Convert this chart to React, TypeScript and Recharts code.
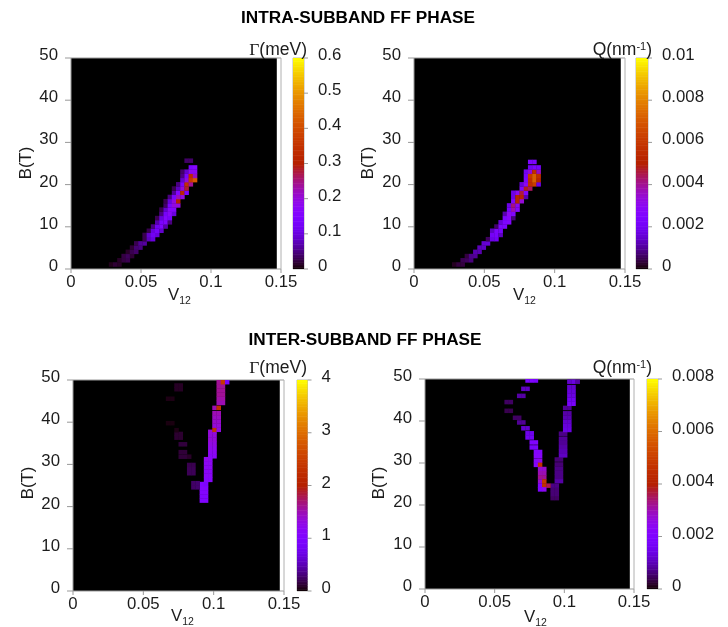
import React from "react";
import { ScatterChart, Scatter, XAxis, YAxis, ReferenceArea } from "recharts";

// Each row: [B (T) at the row's lower edge, V12 at the first cell's left edge, cell values]
type Row = [number, number, number[]];

const intraGammaRows: Row[] = [
  [0.6, 0.027, [0.01, 0.02, 0.015]],
  [1.6, 0.033, [0.015, 0.025, 0.03]],
  [2.6, 0.036, [0.025, 0.035, 0.02]],
  [3.6, 0.039, [0.015, 0.03, 0.04]],
  [4.6, 0.042, [0.02, 0.045, 0.05]],
  [5.6, 0.045, [0.03, 0.06, 0.065]],
  [6.6, 0.051, [0.03, 0.08, 0.1]],
  [7.6, 0.051, [0.03, 0.09, 0.12, 0.1]],
  [8.6, 0.054, [0.03, 0.1, 0.13, 0.09]],
  [9.6, 0.057, [0.05, 0.12, 0.15, 0.07]],
  [10.6, 0.06, [0.07, 0.14, 0.15, 0.05]],
  [11.6, 0.06, [0.03, 0.1, 0.16, 0.13]],
  [12.6, 0.063, [0.05, 0.13, 0.17, 0.1]],
  [13.6, 0.063, [0.03, 0.09, 0.17, 0.16]],
  [14.6, 0.066, [0.04, 0.14, 0.2, 0.2]],
  [15.6, 0.066, [0.03, 0.1, 0.2, 0.3]],
  [16.6, 0.069, [0.05, 0.14, 0.22, 0.2]],
  [17.6, 0.072, [0.06, 0.16, 0.32, 0.14]],
  [18.6, 0.072, [0.03, 0.08, 0.2, 0.28]],
  [19.6, 0.075, [0.05, 0.14, 0.34, 0.24]],
  [20.6, 0.078, [0.09, 0.2, 0.36, 0.42]],
  [21.6, 0.078, [0.05, 0.14, 0.33, 0.22]],
  [22.6, 0.078, [0.04, 0.09, 0.18, 0.18]],
  [23.6, 0.084, [0.14, 0.16]],
  [25.2, 0.081, [0.04, 0.04]],
];

const intraQRows: Row[] = [
  [0.6, 0.027, [0.0002, 0.0004, 0.0004]],
  [1.6, 0.033, [0.0005, 0.0006, 0.0008]],
  [2.6, 0.036, [0.0004, 0.0009, 0.001]],
  [3.6, 0.042, [0.0012, 0.0012]],
  [4.6, 0.045, [0.0013, 0.0014]],
  [5.6, 0.048, [0.0015, 0.0016]],
  [6.6, 0.051, [0.0006, 0.0018, 0.002]],
  [7.6, 0.054, [0.0021, 0.0023, 0.0014]],
  [8.6, 0.054, [0.0014, 0.0024, 0.0022]],
  [9.6, 0.057, [0.0007, 0.0024, 0.0024]],
  [10.6, 0.06, [0.0016, 0.0024, 0.0026]],
  [11.6, 0.063, [0.0024, 0.0028, 0.0008]],
  [12.6, 0.063, [0.0012, 0.003, 0.0026]],
  [13.6, 0.066, [0.0022, 0.0038, 0.0028]],
  [14.6, 0.066, [0.0018, 0.0042, 0.003]],
  [15.6, 0.069, [0.0026, 0.0052, 0.0034]],
  [16.6, 0.069, [0.0018, 0.0052, 0.0052, 0.0012]],
  [17.6, 0.069, [0.0018, 0.003, 0.0046, 0.0026]],
  [18.6, 0.075, [0.0026, 0.0048, 0.0044]],
  [19.6, 0.075, [0.0016, 0.003, 0.0056, 0.0062, 0.0018]],
  [20.6, 0.078, [0.0024, 0.0056, 0.0072, 0.0052]],
  [21.6, 0.078, [0.0022, 0.006, 0.0072, 0.0056]],
  [22.6, 0.078, [0.002, 0.0034, 0.0056, 0.0036]],
  [23.6, 0.081, [0.002, 0.0024, 0.0022]],
  [24.9, 0.081, [0.0024, 0.0024]],
];

const interGammaRows: Row[] = [
  [20.96, 0.09, [1.0, 1.0]],
  [21.94, 0.09, [1.0, 1.0]],
  [22.92, 0.09, [1.05, 1.05]],
  [23.9, 0.09, [1.05, 1.05]],
  [24.88, 0.09, [1.0, 0.95]],
  [25.08, 0.084, [0.26, 0.28]],
  [24.1, 0.084, [0.26, 0.28]],
  [25.87, 0.093, [1.1, 1.1]],
  [26.85, 0.093, [1.15, 1.15]],
  [27.83, 0.093, [1.15, 1.15]],
  [28.81, 0.093, [1.2, 1.2]],
  [29.79, 0.093, [1.2, 1.2]],
  [30.77, 0.093, [1.25, 1.2]],
  [31.46, 0.096, [1.15, 1.15]],
  [32.44, 0.096, [1.2, 1.2]],
  [33.42, 0.096, [1.25, 1.25]],
  [34.4, 0.096, [1.3, 1.3]],
  [35.38, 0.096, [1.35, 1.35]],
  [36.36, 0.096, [1.35, 1.35]],
  [37.25, 0.096, [1.35, 1.35]],
  [37.74, 0.099, [2.3, 1.3]],
  [38.72, 0.099, [1.35, 1.35]],
  [39.7, 0.099, [1.4, 1.4]],
  [40.68, 0.099, [1.45, 1.45]],
  [41.66, 0.099, [1.5, 1.5]],
  [42.93, 0.099, [1.5, 2.3]],
  [44.1, 0.102, [1.5, 1.5]],
  [45.09, 0.102, [1.55, 1.55]],
  [46.07, 0.102, [1.6, 1.6]],
  [47.05, 0.102, [1.6, 1.6]],
  [48.04, 0.102, [1.6, 1.6]],
  [49.02, 0.102, [1.6, 2.4, 0.9]],
  [31.36, 0.075, [0.14, 0.14, 0.1]],
  [32.44, 0.075, [0.14, 0.14]],
  [27.44, 0.081, [0.22, 0.22]],
  [28.42, 0.081, [0.22, 0.22]],
  [29.4, 0.081, [0.2, 0.2]],
  [34.3, 0.075, [0.15, 0.15]],
  [35.87, 0.072, [0.12, 0.12]],
  [36.75, 0.072, [0.12, 0.12]],
  [37.64, 0.072, [0.05]],
  [39.3, 0.066, [0.04, 0.04]],
  [45.09, 0.066, [0.05, 0.05]],
  [47.35, 0.072, [0.09, 0.09]],
  [48.23, 0.072, [0.09, 0.09]],
];

const interQRows: Row[] = [
  [21.17, 0.09, [0.0005, 0.0005]],
  [22.16, 0.09, [0.0006, 0.0006]],
  [23.15, 0.09, [0.0006, 0.0006]],
  [24.14, 0.09, [0.0007, 0.0007]],
  [25.23, 0.093, [0.0009, 0.0009]],
  [26.22, 0.093, [0.0007, 0.0007]],
  [27.21, 0.093, [0.0007, 0.0007]],
  [28.2, 0.093, [0.0007, 0.0007]],
  [29.19, 0.093, [0.0006, 0.0006]],
  [30.37, 0.093, [0.0006, 0.0006]],
  [31.36, 0.096, [0.0011, 0.0011]],
  [32.35, 0.096, [0.001, 0.001]],
  [33.34, 0.096, [0.0009, 0.0009]],
  [34.33, 0.096, [0.0008, 0.0008]],
  [35.32, 0.096, [0.0008, 0.0008]],
  [36.51, 0.096, [0.0007, 0.0007]],
  [37.4, 0.099, [0.0014, 0.0014]],
  [38.39, 0.099, [0.0013, 0.0013]],
  [39.38, 0.099, [0.0012, 0.0012]],
  [40.37, 0.099, [0.001, 0.001]],
  [41.36, 0.099, [0.0009, 0.0009]],
  [42.65, 0.099, [0.0008, 0.0008]],
  [43.64, 0.102, [0.0018, 0.0018]],
  [44.63, 0.102, [0.0016, 0.0016]],
  [45.62, 0.102, [0.0014, 0.0014]],
  [46.61, 0.102, [0.0013, 0.0013]],
  [47.6, 0.102, [0.0012, 0.0012]],
  [48.89, 0.102, [0.0012, 0.0014, 0.0009]],
  [49.18, 0.072, [0.0018, 0.002, 0.0018]],
  [47.2, 0.069, [0.0011, 0.0011]],
  [45.52, 0.066, [0.0009, 0.0009]],
  [44.04, 0.057, [0.0005, 0.0005]],
  [41.96, 0.057, [0.0004, 0.0004]],
  [40.3, 0.063, [0.0005, 0.0005]],
  [39.19, 0.066, [0.0008, 0.0008]],
  [37.8, 0.069, [0.0012, 0.0012]],
  [36.61, 0.072, [0.0015, 0.0015]],
  [35.62, 0.072, [0.0016, 0.0016]],
  [34.43, 0.075, [0.002, 0.002]],
  [33.24, 0.075, [0.0018, 0.0018]],
  [32.16, 0.078, [0.0021, 0.0021]],
  [31.17, 0.078, [0.0022, 0.0022]],
  [30.08, 0.078, [0.0022, 0.0025]],
  [29.09, 0.078, [0.0022, 0.0046]],
  [28.1, 0.081, [0.0028, 0.0028]],
  [27.11, 0.081, [0.003, 0.003]],
  [26.12, 0.081, [0.0032, 0.0032]],
  [25.13, 0.081, [0.0028, 0.0048]],
  [24.14, 0.081, [0.002, 0.0046, 0.0036]],
  [23.25, 0.081, [0.002, 0.0024]],
];

const vTicks = [0, 0.05, 0.1, 0.15];
const bTicks = [0, 10, 20, 30, 40, 50];
const gammaSmallTicks = [0, 0.1, 0.2, 0.3, 0.4, 0.5, 0.6];
const qSmallTicks = [0, 0.002, 0.004, 0.006, 0.008, 0.01];
const gammaLargeTicks = [0, 1, 2, 3, 4];
const qLargeTicks = [0, 0.002, 0.004, 0.006, 0.008];

const CELL_V = 0.003;
const CELL_B = 1;
const V_END = 0.147;
const GREY = "#999";
const INK = "#1c1c1c";
const FONT = "'Liberation Sans', Arial, sans-serif";
const FS = 16.8;
const BAR_LEVELS = 128;

function paletteColor(t: number) {
  const x = Math.max(0, Math.min(1, t));
  const r = Math.sqrt(x);
  const g = x * x * x;
  const b = Math.max(0, Math.sin(2 * Math.PI * x));
  return `rgb(${Math.round(r * 255)},${Math.round(g * 255)},${Math.round(b * 255)})`;
}

function expand(rows: Row[]) {
  const out: { v: number; b: number; value: number }[] = [];
  rows.forEach(([b, v0, values]) =>
    values.forEach((value, k) =>
      out.push({ v: v0 + (k + 0.5) * CELL_V, b: b + CELL_B / 2, value })
    )
  );
  return out;
}

const LEFT_W = 40;
const RIGHT_W = 30;
const TOP_H = 20;
const BOTTOM_H = 40;

function leftTick(props: any) {
  return (
    <text x={props.x - 5} y={props.y + 2} textAnchor="end" fontSize={FS} fontFamily={FONT} fill={INK}>
      {props.payload.value}
    </text>
  );
}
function bottomTick(props: any) {
  return (
    <text x={props.x} y={props.y + 12} textAnchor="middle" fontSize={FS} fontFamily={FONT} fill={INK}>
      {props.payload.value}
    </text>
  );
}
function rightTick(props: any) {
  return (
    <text x={props.x + 8} y={props.y + 2} textAnchor="start" fontSize={FS} fontFamily={FONT} fill={INK}>
      {props.payload.value}
    </text>
  );
}

function Panel({
  left, top, plotW, plotH, rows, max,
}: {
  left: number; top: number; plotW: number; plotH: number; rows: Row[]; max: number;
}) {
  const cw = (plotW / vTicks[3]) * CELL_V;
  const ch = (plotH / bTicks[5]) * CELL_B;
  const data = expand(rows);
  const line = { stroke: GREY };
  const light = { stroke: "#b0b0b0" };
  return (
    <div style={{ position: "absolute", left: left - LEFT_W, top: top - TOP_H }}>
      <ScatterChart
        width={LEFT_W + plotW + RIGHT_W}
        height={TOP_H + plotH + BOTTOM_H}
        margin={{ top: 0, right: 0, bottom: 0, left: 0 }}
      >
        <XAxis xAxisId="b" type="number" dataKey="v" domain={[0, 0.15]} ticks={vTicks} orientation="bottom"
          height={BOTTOM_H} tickSize={4} axisLine={line} tickLine={line} tick={bottomTick} allowDataOverflow interval={0} />
        <XAxis xAxisId="t" type="number" domain={[0, 0.15]} ticks={vTicks} orientation="top"
          height={TOP_H} tickSize={5} axisLine={line} tickLine={line} tick={false} allowDataOverflow interval={0} />
        <YAxis yAxisId="l" type="number" dataKey="b" domain={[0, 50]} ticks={bTicks} orientation="left"
          width={LEFT_W} tickSize={6} axisLine={line} tickLine={line} tick={leftTick} allowDataOverflow interval={0} />
        <YAxis yAxisId="r" type="number" domain={[0, 50]} ticks={bTicks} orientation="right"
          width={RIGHT_W} tickSize={5} axisLine={light} tickLine={light} tick={false} allowDataOverflow interval={0} />
        <ReferenceArea xAxisId="b" yAxisId="l" x1={0} x2={V_END} y1={0} y2={50} fill="#000" fillOpacity={1} stroke="none" />
        <Scatter
          xAxisId="b"
          yAxisId="l"
          data={data}
          isAnimationActive={false}
          shape={(p: any) => (
            <rect
              x={p.cx - cw / 2}
              y={p.cy - ch / 2}
              width={cw + 0.3}
              height={ch + 0.3}
              fill={paletteColor(p.payload.value / max)}
            />
          )}
        />
      </ScatterChart>
    </div>
  );
}

function ColorBar({
  left, top, barW, plotH, max, ticks,
}: {
  left: number; top: number; barW: number; plotH: number; max: number; ticks: number[];
}) {
  const L = 5;
  const R = 60;
  const line = { stroke: GREY };
  const levels = Array.from({ length: BAR_LEVELS }, (_, k) => ({
    pos: 0.5,
    level: ((k + 0.5) / BAR_LEVELS) * max,
  }));
  const ch = plotH / BAR_LEVELS;
  return (
    <div style={{ position: "absolute", left: left - L, top: top - TOP_H }}>
      <ScatterChart
        width={L + barW + R}
        height={TOP_H + plotH + BOTTOM_H}
        margin={{ top: TOP_H, right: 0, bottom: BOTTOM_H, left: 0 }}
      >
        <XAxis xAxisId="x" type="number" dataKey="pos" domain={[0, 1]} hide />
        <YAxis yAxisId="l" type="number" dataKey="level" domain={[0, max]} ticks={ticks} orientation="left"
          width={L} tickSize={3} axisLine={false} tickLine={line} tick={false} allowDataOverflow interval={0} />
        <YAxis yAxisId="r" type="number" domain={[0, max]} ticks={ticks} orientation="right"
          width={R} tickSize={4} axisLine={false} tickLine={line} tick={rightTick} allowDataOverflow interval={0} />
        <Scatter
          xAxisId="x"
          yAxisId="l"
          data={levels}
          isAnimationActive={false}
          shape={(p: any) => (
            <rect
              x={p.cx - barW / 2}
              y={p.cy - ch / 2}
              width={barW}
              height={ch + 0.5}
              fill={paletteColor(p.payload.level / max)}
            />
          )}
        />
        <ReferenceArea xAxisId="x" yAxisId="l" x1={0} x2={1} y1={0} y2={max} fill="none" stroke={GREY} strokeWidth={0.7} />
      </ScatterChart>
    </div>
  );
}

function VLabel({ x, y }: { x: number; y: number }) {
  return (
    <text x={x} y={y} fontSize={FS} fontFamily={FONT} fill={INK}>
      V<tspan fontSize={10.5} dy={3.5}>12</tspan>
    </text>
  );
}
function BLabel({ x, y }: { x: number; y: number }) {
  return (
    <text transform={`translate(${x},${y}) rotate(-90)`} textAnchor="middle" fontSize={FS} fontFamily={FONT} fill={INK}>
      B(T)
    </text>
  );
}
function GammaLabel({ x, y }: { x: number; y: number }) {
  return (
    <text x={x} y={y} textAnchor="end" fontSize={17.5} fontFamily={FONT} fill={INK}>
      <tspan fontFamily="'Liberation Serif', serif">Γ</tspan>(meV)
    </text>
  );
}
function QLabel({ x, y }: { x: number; y: number }) {
  return (
    <text x={x} y={y} textAnchor="end" fontSize={17.5} fontFamily={FONT} fill={INK}>
      Q(nm<tspan fontSize={11} dy={-5}>-1</tspan><tspan dy={5}>)</tspan>
    </text>
  );
}

export default function App() {
  return (
    <div style={{ position: "absolute", left: 0, top: 0, width: 728, height: 627, background: "#fff", overflow: "hidden", filter: "blur(0.4px)" }}>
      <Panel left={71} top={58} plotW={210} plotH={211} rows={intraGammaRows} max={0.6} />
      <ColorBar left={293} top={58} barW={11} plotH={211} max={0.6} ticks={gammaSmallTicks} />
      <Panel left={414} top={58} plotW={211} plotH={211} rows={intraQRows} max={0.01} />
      <ColorBar left={636} top={58} barW={12} plotH={211} max={0.01} ticks={qSmallTicks} />
      <Panel left={73} top={380} plotW={211} plotH={211} rows={interGammaRows} max={4} />
      <ColorBar left={296.5} top={380} barW={10.5} plotH={211} max={4} ticks={gammaLargeTicks} />
      <Panel left={425} top={379} plotW={209} plotH={210} rows={interQRows} max={0.008} />
      <ColorBar left={647} top={379} barW={11} plotH={210} max={0.008} ticks={qLargeTicks} />
      <svg width={728} height={627} style={{ position: "absolute", left: 0, top: 0, pointerEvents: "none" }}>
        <text x={358} y={23} textAnchor="middle" fontSize={17.2} fontWeight="bold" fontFamily={FONT} fill="#000">INTRA-SUBBAND FF PHASE</text>
        <text x={365} y={345} textAnchor="middle" fontSize={17.2} fontWeight="bold" fontFamily={FONT} fill="#000">INTER-SUBBAND FF PHASE</text>
        <BLabel x={31} y={163} />
        <BLabel x={373} y={163} />
        <BLabel x={33} y={483} />
        <BLabel x={384} y={483} />
        <VLabel x={168} y={300} />
        <VLabel x={513} y={300} />
        <VLabel x={171} y={621} />
        <VLabel x={524} y={622} />
        <GammaLabel x={307} y={55} />
        <QLabel x={652} y={55} />
        <GammaLabel x={307} y={373} />
        <QLabel x={652} y={373} />
      </svg>
    </div>
  );
}
